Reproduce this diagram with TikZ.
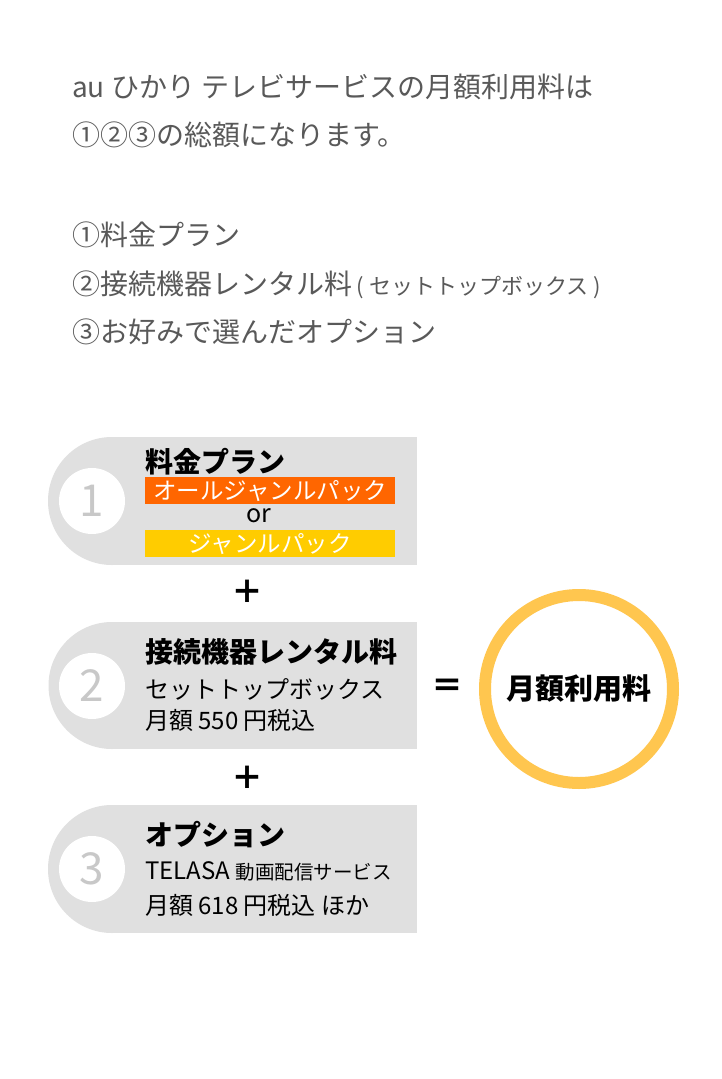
\documentclass[tikz,border=0pt]{standalone}
\usepackage{fontspec}
\setmainfont{Noto Sans CJK JP}
\usetikzlibrary{positioning}

\definecolor{textgray}{HTML}{595959}
\definecolor{boxgray}{HTML}{E0E0E0}
\definecolor{numgray}{HTML}{C8C8C8}
\definecolor{planorange}{HTML}{FF6600}
\definecolor{planyellow}{HTML}{FFCC00}
\definecolor{ringyellow}{HTML}{FFC64F}

\begin{document}
\begin{tikzpicture}[x=1pt, y=-1pt,
    lead/.style={anchor=west, inner sep=0pt, text=textgray, font=\fontsize{28}{28}\selectfont},
    head/.style={anchor=west, inner sep=0pt, font=\fontsize{28}{28}\selectfont\bfseries},
    line/.style={anchor=west, inner sep=0pt, font=\fontsize{24}{24}\selectfont},
    num/.style={circle, fill=white, minimum size=66pt, inner sep=0pt, text=numgray, font=\fontsize{44}{44}\selectfont},
    bar/.style={anchor=north west, minimum width=250pt, minimum height=27pt, inner sep=0pt, text=white, font=\fontsize{23.5}{23.5}\selectfont},
    sign/.style={inner sep=0pt, font=\fontsize{32}{32}\selectfont\bfseries}]

    \useasboundingbox[fill=white] (0,0) rectangle (721,1079);

    % 説明文
    \node[lead] (t1) at (72,87) {au ひかり テレビサービスの月額利用料は};
    \node[lead] (t2) at (72,135) {①②③の総額になります。};
    \node[lead] (t3) at (72,235) {①料金プラン};
    \node[lead] (t4) at (72,285) {②接続機器レンタル料\,{\fontsize{22}{22}\selectfont ( セットトップボックス )}};
    \node[lead] (t5) at (72,332) {③お好みで選んだオプション};

    % ① 料金プラン
    \fill[boxgray] (112,437) rectangle (417,565);
    \fill[boxgray] (112,501) circle[radius=64pt];
    \node[num] (n1) at (92,501) {1};
    \node[head] (h1) at (145,462) {料金プラン};
    \node[bar, fill=planorange] (b1) at (145,477) {オールジャンルパック};
    \node[inner sep=0pt, font=\fontsize{25}{25}\selectfont] (or) at (259,516) {or};
    \node[bar, fill=planyellow] (b2) at (145,530) {ジャンルパック};

    \node[sign] (p1) at (247,592) {＋};

    % ② 接続機器レンタル料
    \fill[boxgray] (112,622) rectangle (417,749);
    \fill[boxgray] (112,685.5) circle[radius=63.5pt];
    \node[num] (n2) at (92,686) {2};
    \node[head] (h2) at (145,652) {接続機器レンタル料};
    \node[line] (l2a) at (145,689) {セットトップボックス};
    \node[line] (l2b) at (145,720) {月額 550 円税込};

    \node[sign] (p2) at (247,778) {＋};

    % ③ オプション
    \fill[boxgray] (112,805) rectangle (417,933);
    \fill[boxgray] (112,869) circle[radius=64pt];
    \node[num] (n3) at (92,869) {3};
    \node[head] (h3) at (145,835) {オプション};
    \node[line] (l3a) at (145,871) {TELASA {\fontsize{19.5}{19.5}\selectfont 動画配信サービス}};
    \node[line] (l3b) at (145,905) {月額 618 円税込 ほか};

    % 合計
    \node[sign] (eq) at (447,688) {＝};
    \node[circle, draw=ringyellow, line width=12pt, minimum size=188pt, inner sep=0pt,
          font=\fontsize{29}{29}\selectfont\bfseries] (total) at (579,689) {月額利用料};

\end{tikzpicture}
\end{document}
